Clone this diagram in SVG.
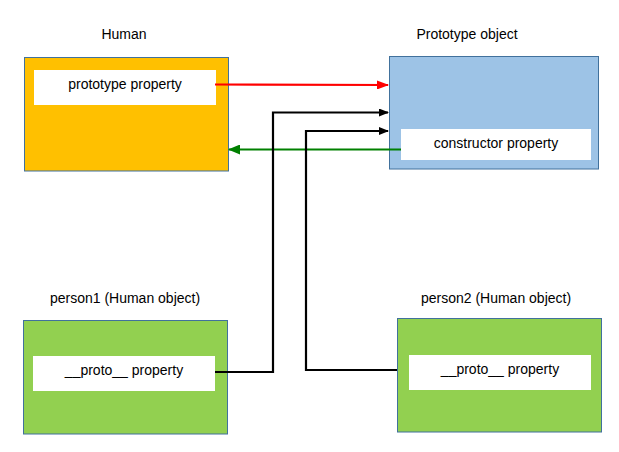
<svg xmlns="http://www.w3.org/2000/svg" width="619" height="452" viewBox="0 0 619 452">
<defs>
<style>
.box{stroke:#41719C;stroke-width:1}
.inner{fill:#fff}
text{font-family:"Liberation Sans",Arial,sans-serif;font-size:14px;fill:#000;text-anchor:middle}
.c{fill:none;stroke-width:2.2}
</style>
<marker id="ar" markerWidth="12" markerHeight="9" refX="11" refY="4.5" orient="auto" markerUnits="userSpaceOnUse"><path d="M0,0 L12,4.5 L0,9 z" fill="#FF0000"/></marker>
<marker id="ag" markerWidth="12" markerHeight="10" refX="11" refY="5" orient="auto" markerUnits="userSpaceOnUse"><path d="M0,0 L12,5 L0,10 z" fill="#008000"/></marker>
<marker id="ak" markerWidth="10" markerHeight="8" refX="9" refY="4" orient="auto" markerUnits="userSpaceOnUse"><path d="M0,0 L10,4 L0,8 z" fill="#000"/></marker>
</defs>
<rect width="619" height="452" fill="#fff"/>
<g id="human">
<text x="124" y="39">Human</text>
<rect class="box" x="24.5" y="57.5" width="204" height="113.5" fill="#FFC000"/>
<rect class="inner" x="34" y="70" width="182" height="35"/>
<text x="125" y="89">prototype property</text>
</g>
<g id="prototype">
<text x="467" y="39">Prototype object</text>
<rect class="box" x="389.5" y="56.5" width="209" height="112.5" fill="#9DC3E6"/>
<rect class="inner" x="401" y="129" width="190" height="31"/>
<text x="496" y="148">constructor property</text>
</g>
<g id="person1">
<text x="125" y="303">person1 (Human object)</text>
<rect class="box" x="23.5" y="320.5" width="204" height="113.5" fill="#92D050"/>
<rect class="inner" x="33" y="356" width="182" height="35"/>
<text x="124" y="375">__proto__ property</text>
</g>
<g id="person2">
<text x="496" y="303">person2 (Human object)</text>
<rect class="box" x="397.5" y="318.5" width="204" height="113.5" fill="#92D050"/>
<rect class="inner" x="409" y="355" width="182" height="35"/>
<text x="500" y="374">__proto__ property</text>
</g>
<g id="connectors">
<path class="c" d="M215,84.5 L388,85" stroke="#FF0000" stroke-width="2.8" marker-end="url(#ar)"/>
<path class="c" d="M401,149.5 L229,149.5" stroke="#008000" stroke-width="3.2" marker-end="url(#ag)"/>
<path class="c" d="M215,372 L273,372 L273,112.5 L388,112.5" stroke="#000" marker-end="url(#ak)"/>
<path class="c" d="M397,370 L306,370 L306,131 L388,131" stroke="#000" marker-end="url(#ak)"/>
</g>
</svg>
